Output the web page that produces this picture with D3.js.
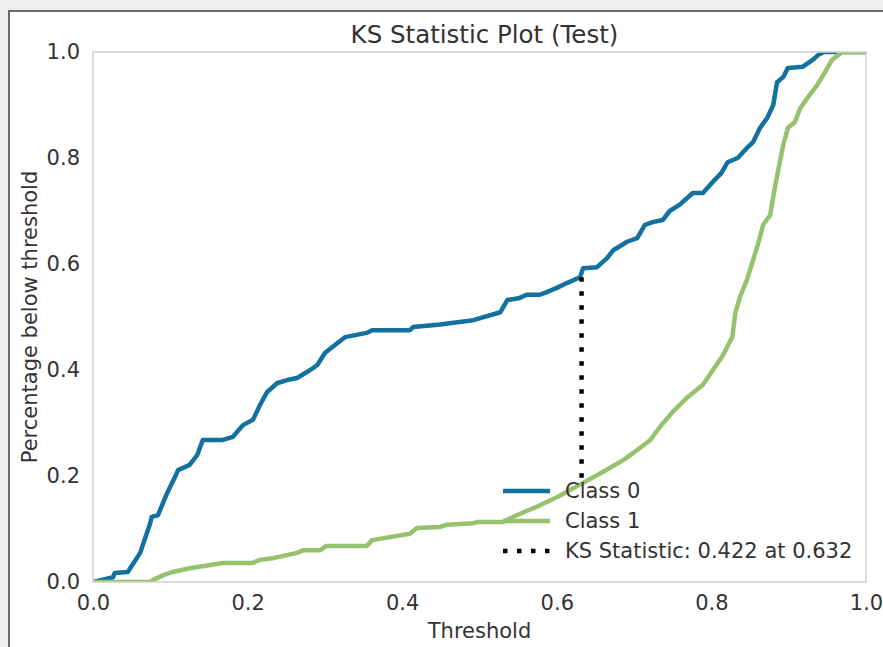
<!DOCTYPE html>
<html>
<head>
<meta charset="utf-8">
<script src="https://cdn.jsdelivr.net/npm/d3@7"></script>
<style>
    body { margin: 0; background: #efefef; }
    text { font-family: "DejaVu Sans", sans-serif; fill: #333; }
</style>
</head>
<body>
<div id="ks-chart"></div>
<script>
// values
const class0Thresholds = [0, 0.026, 0.028, 0.045, 0.061, 0.074, 0.076, 0.084, 0.096, 0.106, 0.110, 0.125, 0.135, 0.142, 0.168,
    0.181, 0.194, 0.207, 0.216, 0.225, 0.238, 0.251, 0.264, 0.281, 0.290, 0.300, 0.313, 0.326, 0.354, 0.361, 0.410, 0.414,
    0.449, 0.492, 0.527, 0.536, 0.552, 0.561, 0.578, 0.587, 0.600, 0.613, 0.630, 0.634, 0.652, 0.665, 0.673, 0.691, 0.704,
    0.714, 0.724, 0.737, 0.746, 0.759, 0.776, 0.789, 0.802, 0.813, 0.821, 0.834, 0.846, 0.854, 0.863, 0.872, 0.880, 0.885,
    0.893, 0.899, 0.918, 0.931, 0.938, 0.945, 1.0];
const class0Values = [0, 0.009, 0.017, 0.019, 0.055, 0.111, 0.123, 0.126, 0.168, 0.198, 0.211, 0.221, 0.240, 0.268, 0.268,
    0.274, 0.296, 0.306, 0.334, 0.358, 0.375, 0.381, 0.385, 0.400, 0.409, 0.432, 0.447, 0.462, 0.470, 0.475, 0.475, 0.481,
    0.486, 0.494, 0.509, 0.532, 0.536, 0.542, 0.542, 0.547, 0.555, 0.564, 0.575, 0.592, 0.594, 0.611, 0.626, 0.642, 0.649,
    0.674, 0.679, 0.683, 0.700, 0.712, 0.734, 0.734, 0.755, 0.772, 0.792, 0.800, 0.819, 0.830, 0.857, 0.875, 0.900, 0.943,
    0.953, 0.970, 0.972, 0.985, 0.994, 1.0, 1.0];

const class1Thresholds = [0, 0.074, 0.078, 0.091, 0.103, 0.125, 0.168, 0.207, 0.216, 0.233, 0.264, 0.272, 0.294, 0.302,
    0.354, 0.361, 0.410, 0.419, 0.449, 0.458, 0.492, 0.497, 0.530, 0.548, 0.574, 0.600, 0.634, 0.660, 0.686, 0.704, 0.721,
    0.733, 0.750, 0.768, 0.789, 0.802, 0.815, 0.827, 0.831, 0.837, 0.846, 0.854, 0.860, 0.867, 0.876, 0.882, 0.886, 0.893,
    0.899, 0.908, 0.915, 0.924, 0.937, 0.947, 0.956, 0.969, 1.0];
const class1Values = [0, 0, 0.004, 0.013, 0.019, 0.026, 0.036, 0.036, 0.042, 0.045, 0.055, 0.060, 0.060, 0.068,
    0.068, 0.079, 0.091, 0.102, 0.104, 0.108, 0.111, 0.113, 0.113, 0.126, 0.142, 0.160, 0.187, 0.208, 0.230, 0.249, 0.268,
    0.292, 0.321, 0.347, 0.372, 0.400, 0.428, 0.462, 0.508, 0.538, 0.570, 0.608, 0.636, 0.674, 0.692, 0.743, 0.774, 0.825,
    0.857, 0.868, 0.894, 0.913, 0.938, 0.962, 0.985, 1.0, 1.0];

const ksThreshold = 0.632;
const ksEnds = [0.19, 0.575];
const ksLabel = "KS Statistic: 0.422 at 0.632";

const seriesNames = ["Class 0", "Class 1"];
const seriesColors = ["#13719f", "#96c26e"];
const xTicks = [0, 0.2, 0.4, 0.6, 0.8, 1.0];
const yTicks = [0, 0.2, 0.4, 0.6, 0.8, 1.0];

class KSPlot {
    constructor(parentElement) {
        this.parentElement = parentElement;
        this.initVis();
    }

    initVis() {
        let vis = this;
        vis.width = 883;
        vis.height = 647;
        vis.margin = {left: 93, top: 52, right: 17, bottom: 65};
        vis.innerW = vis.width - vis.margin.left - vis.margin.right;
        vis.innerH = vis.height - vis.margin.top - vis.margin.bottom;

        vis.svg = d3.select("#" + vis.parentElement)
            .append("svg")
            .attr("width", vis.width)
            .attr("height", vis.height)
            .style("display", "block");

        // figure card with its dark edge
        vis.svg.append("rect")
            .attr("x", 9).attr("y", 11)
            .attr("width", vis.width).attr("height", vis.height)
            .attr("fill", "white");
        vis.svg.append("path")
            .attr("d", `M9,${vis.height}V11H${vis.width}`)
            .attr("fill", "none")
            .attr("stroke", "#6b6b6b")
            .attr("stroke-width", 2);

        vis.g = vis.svg.append("g")
            .attr("transform", `translate(${vis.margin.left},${vis.margin.top})`);

        vis.x = d3.scaleLinear().domain([0, 1]).range([0, vis.innerW]);
        vis.y = d3.scaleLinear().domain([0, 1]).range([vis.innerH, 0]);

        vis.g.append("clipPath").attr("id", "plot-clip")
            .append("rect").attr("width", vis.innerW).attr("height", vis.innerH);

        vis.drawAxes();
        vis.drawCurves();
        vis.drawLegend();
    }

    drawAxes() {
        let vis = this;

        let xAxis = vis.g.append("g")
            .attr("transform", `translate(0,${vis.innerH})`)
            .call(d3.axisBottom(vis.x).tickValues(xTicks).tickFormat(d3.format(".1f")).tickSize(0).tickPadding(13));
        let yAxis = vis.g.append("g")
            .call(d3.axisLeft(vis.y).tickValues(yTicks).tickFormat(d3.format(".1f")).tickSize(0).tickPadding(13));

        [xAxis, yAxis].forEach(ax => {
            ax.select(".domain").remove();
            ax.selectAll("text").style("font-size", "21px").attr("fill", "#333");
        });

        vis.svg.append("text")
            .attr("x", vis.margin.left + vis.innerW / 2 + 5)
            .attr("y", 43)
            .attr("text-anchor", "middle")
            .style("font-size", "24.5px")
            .text("KS Statistic Plot (Test)");

        vis.svg.append("text")
            .attr("x", vis.margin.left + vis.innerW / 2)
            .attr("y", 638)
            .attr("text-anchor", "middle")
            .style("font-size", "21px")
            .text("Threshold");

        vis.svg.append("text")
            .attr("transform", `translate(37,${vis.margin.top + vis.innerH / 2}) rotate(-90)`)
            .attr("text-anchor", "middle")
            .style("font-size", "21px")
            .text("Percentage below threshold");
    }

    drawCurves() {
        let vis = this;
        let line = d3.line().x(d => vis.x(d[0])).y(d => vis.y(d[1]));

        let curves = [
            d3.zip(class0Thresholds, class0Values),
            d3.zip(class1Thresholds, class1Values)
        ];

        let plot = vis.g.append("g").attr("clip-path", "url(#plot-clip)");

        plot.selectAll(".ks-curve")
            .data(curves)
            .enter().append("path")
            .attr("class", "ks-curve")
            .attr("d", line)
            .attr("fill", "none")
            .attr("stroke", (d, i) => seriesColors[i])
            .attr("stroke-width", 4.5)
            .attr("stroke-linejoin", "round");

        plot.append("line")
            .attr("x1", vis.x(ksThreshold)).attr("x2", vis.x(ksThreshold))
            .attr("y1", vis.y(ksEnds[1])).attr("y2", vis.y(ksEnds[0]))
            .attr("stroke", "black")
            .attr("stroke-width", 4.5)
            .attr("stroke-dasharray", "4.5,9.5");

        // frame on top, like matplotlib spines
        vis.g.append("rect")
            .attr("width", vis.innerW).attr("height", vis.innerH)
            .attr("fill", "none")
            .attr("stroke", "#cfcfcf")
            .attr("stroke-width", 1.5);
    }

    drawLegend() {
        let vis = this;
        let entries = [
            {label: seriesNames[0], color: seriesColors[0], dash: null},
            {label: seriesNames[1], color: seriesColors[1], dash: null},
            {label: ksLabel, color: "black", dash: "4.5,9.5"}
        ];

        let legend = vis.svg.append("g")
            .attr("transform", "translate(503,491)");

        let rows = legend.selectAll("g")
            .data(entries)
            .enter().append("g")
            .attr("transform", (d, i) => `translate(0,${i * 30})`);

        rows.append("line")
            .attr("x1", 0).attr("x2", 47)
            .attr("stroke", d => d.color)
            .attr("stroke-width", 4.5)
            .attr("stroke-dasharray", d => d.dash);

        rows.append("text")
            .attr("x", 62)
            .attr("dy", "0.35em")
            .style("font-size", "21px")
            .text(d => d.label);
    }
}

new KSPlot("ks-chart");
</script>
</body>
</html>
